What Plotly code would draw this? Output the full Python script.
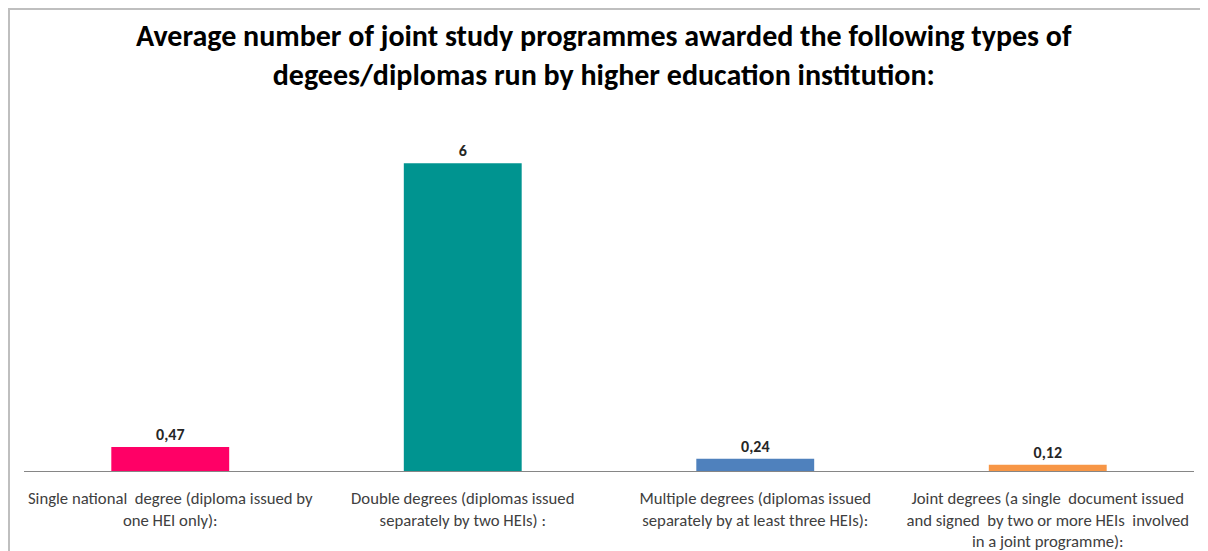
import plotly.graph_objects as go

categories = [
    "Single national  degree (diploma issued by<br>one HEI only):",
    "Double degrees (diplomas issued<br>separately by two HEIs) :",
    "Multiple degrees (diplomas issued<br>separately by at least three HEIs):",
    "Joint degrees (a single  document issued<br>and signed  by two or more HEIs  involved<br>in a joint programme):",
]
values = [0.47, 6, 0.24, 0.12]
value_labels = ["0,47", "6", "0,24", "0,12"]
colors = ["#FF0066", "#009490", "#4F81BD", "#F79646"]

title_text = ("Average number of joint study programmes awarded the following types of<br>"
              "degees/diplomas run by higher education institution:")

FONT = "Carlito, Calibri, Lato, sans-serif"

# page body adds an 8px offset; layout expressed in figure pixels
OFF = 8
W, H = 1208, 551
L = 24 - OFF
T = 112 - OFF
R = W - (1194 - OFF)
B = H - (471 - OFF)
PW = W - L - R
PH = H - T - B


def px_x(x):
    return (x - OFF - L) / PW


def px_y(y):
    return (H - B - (y - OFF)) / PH


fig = go.Figure(
    go.Bar(
        x=categories,
        y=values,
        marker=dict(color=colors, line=dict(width=0)),
        text=["<b>" + t + "</b>" for t in value_labels],
        textposition="outside",
        textfont=dict(family=FONT, size=16, color="#262626"),
        cliponaxis=False,
        width=0.403,
    )
)

fig.update_layout(
    width=W,
    height=H,
    margin=dict(l=L, r=R, t=T, b=B, autoexpand=False),
    paper_bgcolor="white",
    plot_bgcolor="white",
    font=dict(family=FONT, size=16.7, color="#404040"),
    showlegend=False,
    xaxis=dict(
        showline=True,
        linecolor="#868686",
        linewidth=1,
        ticks="",
        showgrid=False,
        automargin=False,
        ticklabelstandoff=12,
        tickfont=dict(family=FONT, size=16.7, color="#404040"),
        tickangle=0,
    ),
    yaxis=dict(
        range=[0, 7],
        visible=False,
        showgrid=False,
        zeroline=False,
        automargin=False,
    ),
    annotations=[
        dict(
            text="<b>" + title_text + "</b>",
            xref="paper",
            yref="paper",
            x=px_x(604),
            y=px_y(15),
            xanchor="center",
            yanchor="top",
            showarrow=False,
            align="center",
            font=dict(family=FONT, size=30, color="#000000"),
        )
    ],
    shapes=[
        dict(
            type="rect",
            xref="paper",
            yref="paper",
            x0=px_x(OFF + 1),
            x1=px_x(1206),
            y0=px_y(600),
            y1=px_y(OFF + 1),
            line=dict(color="#BFBFBF", width=2),
            fillcolor="rgba(0,0,0,0)",
            layer="below",
        )
    ],
)

fig.write_html("out.html")
